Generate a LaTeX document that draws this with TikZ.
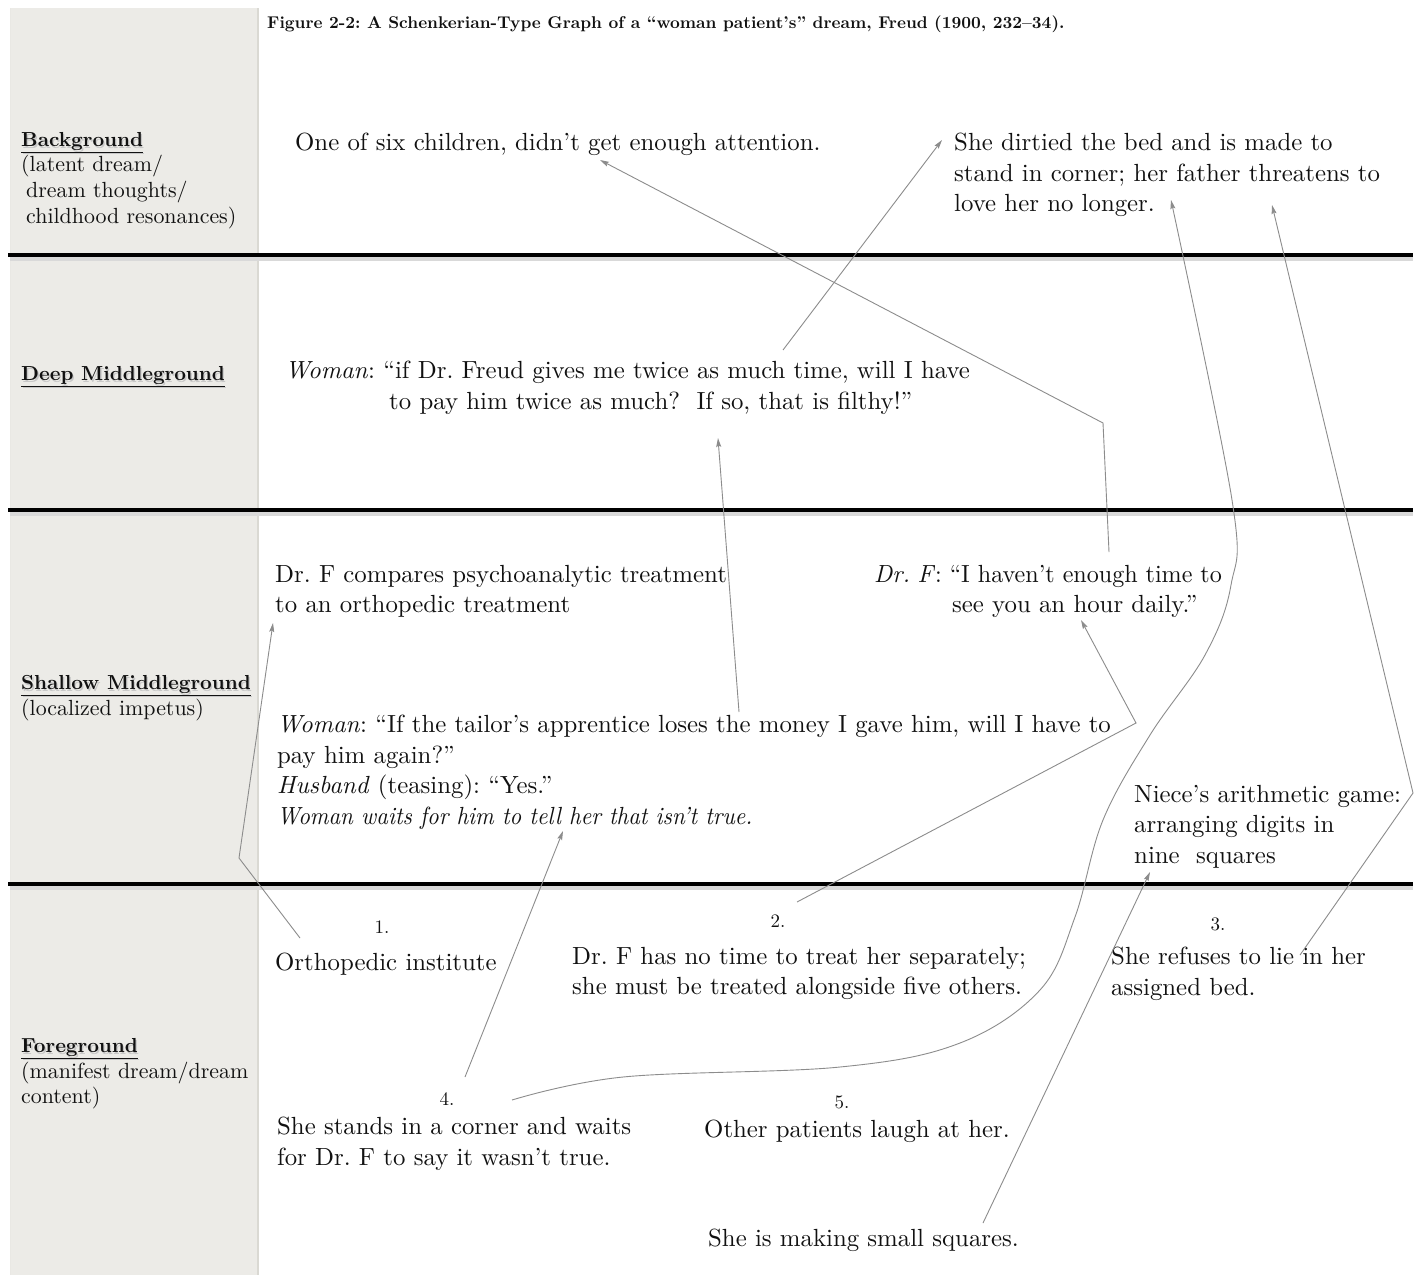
\documentclass[tikz,border=0pt]{standalone}
\usepackage{fontspec}
\setmainfont{lmroman10}[Extension=.otf, UprightFont=*-regular, BoldFont=*-bold, ItalicFont=*-italic, BoldItalicFont=*-bolditalic]
\frenchspacing
\usetikzlibrary{arrows.meta}
\definecolor{panel}{HTML}{ECEBE7}
\definecolor{paneledge}{HTML}{DAD9D3}
\definecolor{ink}{HTML}{111111}
\definecolor{conn}{HTML}{8C8C8C}
\newcommand\lvlhead[1]{{\fontsize{20.3}{25.7}\selectfont\makebox[0pt][l]{\hspace{1.3pt}\raisebox{-1.8pt}{\color{black!22}\underline{\textbf{#1}}}}\underline{\textbf{#1}}}}
\begin{document}
\begin{tikzpicture}[x=1pt,y=-1pt,
  txt/.style={anchor=north west, inner sep=0pt, align=left, text=ink, font=\fontsize{24.8}{30.5}\selectfont},
  lvl/.style={anchor=north west, inner sep=0pt, align=left, text=ink, font=\fontsize{21.9}{25.7}\selectfont},
  num/.style={inner sep=0pt, text=ink, font=\fontsize{19}{22}\selectfont},
  ttl/.style={anchor=north west, inner sep=0pt, text=ink, font=\bfseries\fontsize{17}{19}\selectfont},
  link/.style={draw=conn, line width=0.9pt, -{Stealth[length=9pt,width=5pt,inset=1.5pt]}},
  rulebar/.style={line width=4.2pt, draw=black},
  ruleshade/.style={line width=5pt, draw=black!15}]
\useasboundingbox (0,0) rectangle (1423,1275);
\fill[white] (0,0) rectangle (1423,1275);
% left panel
\fill[panel] (10,8) rectangle (258,1275);
\draw[paneledge, line width=1.2pt] (258,8) -- (258,1275);
\draw[paneledge!60, line width=0.8pt] (10,8) -- (10,1275);
% level rules
\foreach \yy in {255,510,884}{
  \draw[ruleshade] (10,\yy+3) -- (1413,\yy+3);
  \draw[rulebar] (8,\yy) -- (1413,\yy);
}
% title
\node[ttl] (title) at (267,16) {Figure 2-2: A Schenkerian-Type Graph of a “woman patient’s” dream, Freud (1900, 232–34).};
% level labels
\node[lvl] (lvbg) at (21,132) {\lvlhead{Background}\\(latent dream/\\\hspace*{5pt}dream thoughts/\\\hspace*{5pt}childhood resonances)};
\node[lvl] (lvdm) at (21,366) {\lvlhead{Deep Middleground}};
\node[lvl] (lvsm) at (21,675) {\lvlhead{Shallow Middleground}\\(localized impetus)};
\node[lvl] (lvfg) at (21,1038) {\lvlhead{Foreground}\\(manifest dream/dream\\content)};
% background
\node[txt] (bg1) at (295,133) {One of six children, didn’t get enough attention.};
\node[txt] (bg2) at (954,133) {She dirtied the bed and is made to\\stand in corner; her father threatens to\\love her no longer.};
% deep middleground
\node[txt] (dm1) at (285,361) {\textit{Woman}: “if Dr. Freud gives me twice as much time, will I have\\\hspace*{104pt}to pay him twice as much?\ \ If so, that is filthy!”};
% shallow middleground
\node[txt] (sm1) at (275,565) {Dr. F compares psychoanalytic treatment\\to an orthopedic treatment};
\node[txt] (sm2) at (874,565) {\scalebox{0.97}[1]{\textit{Dr.\kern-1pt\ F}: “I haven’t enough time to}\\\hspace*{78pt}see you an hour daily.”};
\node[txt] (sm3) at (277,715) {\textit{Woman}: “If the tailor’s apprentice loses the money I gave him, will I have to\\pay him again?”\\\textit{Husband} (teasing): “Yes.”\\\scalebox{0.92}[1]{\textit{Woman waits for him to tell her that isn’t true.}}};
\node[txt] (sm4) at (1134,785) {Niece’s arithmetic game:\\arranging digits in\\nine\ \ squares};
% foreground
\node[num] (n1) at (382,927) {1.};
\node[num] (n2) at (778,921) {2.};
\node[num] (n3) at (1218,924) {3.};
\node[num] (n4) at (447,1099) {4.};
\node[num] (n5) at (842,1102) {5.};
\node[txt] (fg1) at (275,953) {Orthopedic institute};
\node[txt] (fg2) at (572,947) {Dr. F has no time to treat her separately;\\she must be treated alongside five others.};
\node[txt] (fg3) at (1111,947) {She refuses to lie in her\\assigned bed.};
\node[txt] (fg4) at (277,1117) {She stands in a corner and waits\\for Dr. F to say it wasn’t true.};
\node[txt] (fg5) at (704,1120) {Other patients laugh at her.};
\node[txt] (fg6) at (708,1229) {She is making small squares.};
% connector points
\coordinate (o1) at (300,938); \coordinate (b1) at (239,858); \coordinate (t1) at (273,623);
\coordinate (o2) at (797,902); \coordinate (b2) at (1136,723); \coordinate (t2) at (1081,620);
\coordinate (o3) at (1300,955); \coordinate (b3) at (1413,793); \coordinate (t3) at (1272,205);
\coordinate (o4) at (465,1077); \coordinate (t4) at (563,831);
\coordinate (o5) at (512,1100); \coordinate (t5) at (1171,200);
\coordinate (o6) at (1109,552); \coordinate (b6) at (1103,423); \coordinate (t6) at (600,160);
\coordinate (o7) at (783,350); \coordinate (t7) at (942,140);
\coordinate (o8) at (739,712); \coordinate (t8) at (718,438);
\coordinate (o9) at (983,1223); \coordinate (t9) at (1150,872);
% connectors
\draw[link] (o1) -- (b1) -- (t1);
\draw[link] (o2) -- (b2) -- (t2);
\draw[link] (o3) -- (b3) -- (t3);
\draw[link] (o4) -- (t4);
\draw[link] plot[smooth, tension=0.6] coordinates {(512,1100) (623,1077) (840,1067) (960,1043) (1040,990) (1075,917) (1103,820) (1150,735) (1205,655) (1231,585) (1232,500) (1171,200)};
\draw[link] (o6) -- (b6) -- (t6);
\draw[link] (o7) -- (t7);
\draw[link] (o8) -- (t8);
\draw[link] (o9) -- (t9);
\end{tikzpicture}
\end{document}
